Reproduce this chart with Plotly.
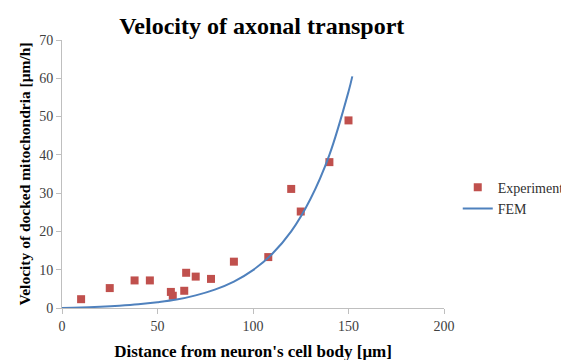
import plotly.graph_objects as go

exp_x = [10, 25, 38, 46, 57, 58, 64, 65, 70, 78, 90, 108, 120, 125, 140, 150]
exp_y = [2.3, 5.2, 7.2, 7.2, 4.2, 3.2, 4.5, 9.2, 8.2, 7.6, 12.1, 13.3, 31.1, 25.2, 38.1, 49.0]

fem_x = [0, 10, 20, 30, 40, 50, 60, 70, 80, 90, 100, 110, 120, 130, 140, 150, 152]
fem_y = [0, 0.13, 0.33, 0.6, 0.97, 1.5, 2.2, 3.3, 4.8, 6.9, 9.9, 14.1, 20.0, 28.4, 40.0, 56.5, 60.5]

font_serif = "Liberation Serif, Times New Roman, serif"

fig = go.Figure()
fig.add_trace(go.Scatter(
    x=exp_x, y=exp_y, mode="markers", name="Experiment",
    marker=dict(symbol="square", size=8, color="#C0504D"),
))
fig.add_trace(go.Scatter(
    x=fem_x, y=fem_y, mode="lines", name="FEM",
    line=dict(color="#4F81BD", width=2, shape="spline"),
))

fig.update_layout(
    width=569, height=360,
    margin=dict(l=54, r=133, t=32, b=60, autoexpand=False),
    paper_bgcolor="white", plot_bgcolor="white",
    title=dict(text="<b>Velocity of axonal transport</b>", x=0.446, xanchor="center",
               y=0.975, yanchor="top",
               font=dict(family=font_serif, size=24, color="black")),
    font=dict(family=font_serif, color="#404040"),
    xaxis=dict(range=[0, 200], tickvals=[0, 50, 100, 150, 200], showgrid=False,
               zeroline=False, showline=True, linecolor="#BFBFBF", linewidth=1,
               ticks="outside", ticklen=5, tickcolor="#BFBFBF", automargin=False,
               tickfont=dict(family=font_serif, size=14, color="#404040"),
               title=dict(text="<b>Distance from neuron's cell body [μm]</b>",
                          font=dict(family=font_serif, size=17, color="black"), standoff=12)),
    yaxis=dict(range=[0, 70], tickvals=[0, 10, 20, 30, 40, 50, 60, 70], showgrid=False,
               zeroline=False, showline=True, linecolor="#BFBFBF", linewidth=1,
               ticks="outside", ticklen=5, tickcolor="#BFBFBF", automargin=False,
               tickfont=dict(family=font_serif, size=14, color="#404040"),
               title=dict(text="<b>Velocity of docked mitochondria [μm/h]</b>",
                          font=dict(family=font_serif, size=15.5, color="black"), standoff=4)),
    legend=dict(x=1.036, y=0.41, xanchor="left", yanchor="middle",
                font=dict(family=font_serif, size=14, color="#303030"),
                bgcolor="rgba(0,0,0,0)", tracegroupgap=0),
    showlegend=True,
)

fig.write_html("out.html")
